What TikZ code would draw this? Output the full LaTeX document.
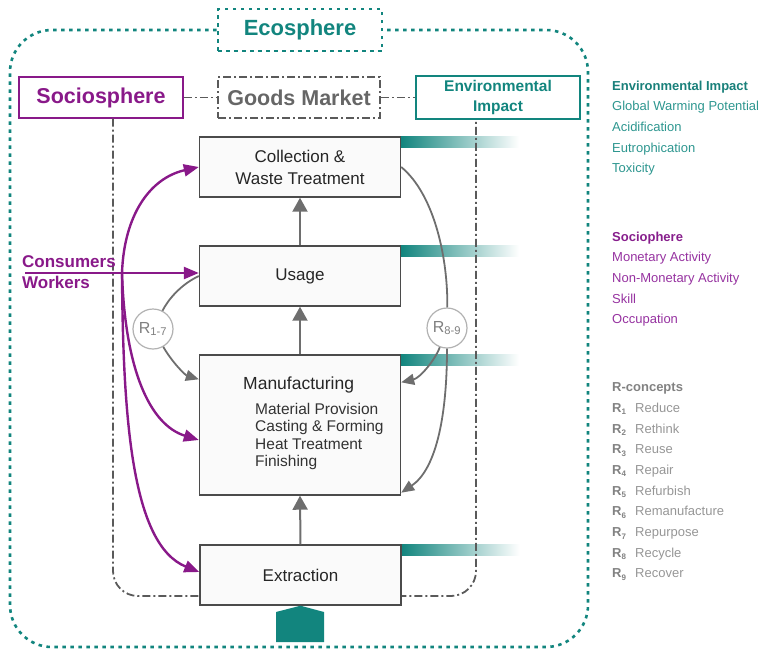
\documentclass[tikz,border=0pt]{standalone}
\usepackage{fontspec}
\setmainfont{Liberation Sans}
\usetikzlibrary{arrows.meta,calc}
\definecolor{teal1}{RGB}{18,133,126}
\definecolor{tealtxt}{RGB}{45,150,143}
\definecolor{tealhead}{RGB}{25,128,122}
\definecolor{purp}{RGB}{137,25,137}
\definecolor{purptxt}{RGB}{150,50,160}
\definecolor{purphead}{RGB}{135,30,140}
\definecolor{boxline}{RGB}{75,75,75}
\definecolor{arrg}{RGB}{110,110,110}
\definecolor{framg}{RGB}{90,90,90}
\definecolor{rgray}{RGB}{150,150,150}
\definecolor{rgrayd}{RGB}{130,130,130}
\newcommand\myfs[2]{\fontsize{#1}{#2}\selectfont}
\newcommand\rc[2]{\makebox[23pt][l]{\textcolor{rgrayd}{\textbf{R}\raisebox{-2.5pt}{\myfs{8}{8}\bfseries #1}}}#2}
\begin{document}
\begin{tikzpicture}[x=1pt,y=-1pt,
  ecoline/.style={draw=teal1, line width=2.6pt, dash pattern=on 3.5pt off 4.5pt},
  ddot/.style={draw=framg, line width=1.8pt, dash pattern=on 8pt off 3pt on 2pt off 3pt},
  procbox/.style={draw=boxline, line width=1.4pt, fill=black!2, minimum width=201pt, minimum height=60pt, inner sep=0pt, font=\myfs{17}{22}, align=center, text=black!85},
  garrow/.style={draw=arrg, line width=2pt, -{Triangle[length=14pt,width=15pt]}},
  gline/.style={draw=arrg, line width=1.8pt},
  carrow/.style={draw=arrg, line width=1.8pt, -{Triangle[length=13pt,width=11pt]}},
  parrow/.style={draw=purp, line width=2.4pt, -{Triangle[length=15pt,width=12pt]}},
  rcirc/.style={circle, draw=black!30, line width=1.2pt, fill=white, minimum size=40pt, inner sep=0pt, text=black!50, font=\myfs{16}{16}},
  legend/.style={anchor=north west, inner sep=0pt, align=left, font=\myfs{13}{20.7}},
  bar/.style={left color=teal1, middle color=teal1!65, right color=white}
]
\useasboundingbox (0,0) rectangle (764,649);

% process boxes (positions)
\node[procbox] (coll) at (300,167) {Collection \&\\Waste Treatment};
\node[procbox] (usage) at (300,276) {Usage};
\node[procbox, minimum height=140pt] (manuf) at (300,425) {};
\node[procbox] (extr) at (300.5,575) {Extraction};

% gradient bars
\foreach \b in {coll,usage,manuf,extr}{
  \shade[bar] (\b.north east) rectangle ++(118,11);
}

% label boxes
\node[ecoline, minimum width=164pt, minimum height=42pt, font=\bfseries\myfs{22}{22}, text=teal1] (eco) at (300,30) {Ecosphere};
\node[draw=purp, line width=1.5pt, minimum width=164pt, minimum height=41pt, font=\bfseries\myfs{21.5}{22}, text=purp] (socio) at (101,97.5) {Sociosphere};
\node[ddot, minimum width=162pt, minimum height=41pt, font=\bfseries\myfs{21.5}{22}, text=black!60] (goods) at (299,97.5) {Goods Market};
\node[draw=teal1, line width=1.5pt, minimum width=164pt, minimum height=43pt, font=\bfseries\myfs{15.5}{20}, text=teal1, align=center] (env) at (498,97.5) {Environmental\\Impact};

\draw[ddot] (socio) -- (goods);
\draw[ddot] (goods) -- (env);

% outer ecosphere frame
\draw[ecoline, rounded corners=42pt] (eco.west) -| (10,647) -| (588,30) -- (eco.east);

% inner frame
\coordinate (fl) at (113,118.5);
\coordinate (fr) at (476,119.5);
\coordinate (fb) at (401,596);
\draw[ddot, rounded corners=25pt] (fl) |- (fb) -| (fr);

% redraw boxes on top of frame
\node[procbox] at (coll) {Collection \&\\Waste Treatment};
\node[procbox] at (usage) {Usage};
\node[procbox, minimum height=140pt] at (manuf) {};
\node[procbox] at (extr) {Extraction};

\node[anchor=west, inner sep=0pt, font=\myfs{17.5}{20}, text=black!85] (mt) at (243,385) {Manufacturing};
\node[anchor=north west, inner sep=0pt, align=left, font=\myfs{15.5}{17.5}, text=black!80] (ml) at (255,403) {Material Provision\\Casting \& Forming\\Heat Treatment\\Finishing};

% input from below
\fill[teal1] (276,642) -- (276,612) -- (extr.south) -- (324,612) -- (324,642) -- cycle;

% vertical flow
\draw[garrow] (extr.north) -- (manuf.south);
\draw[garrow] (manuf.north) -- (usage.south);
\draw[garrow] (usage.north) -- (coll.south);

% R loops
\node[rcirc] (r17) at (153,329) {R\textsubscript{1-7}};
\node[rcirc] (r89) at (447,328) {R\textsubscript{8-9}};
\draw[gline] (usage.west) .. controls (180,285) and (168,300) .. (r17);
\draw[carrow] (r17) .. controls (172,362) and (185,375) .. ($(manuf.north west)+(0,25)$);
\draw[gline] (coll.east) .. controls (435,195) and (448,260) .. (r89);
\draw[carrow] (r89) .. controls (435,360) and (420,378) .. ($(manuf.north east)+(0,28)$);
\draw[carrow] (r89) .. controls (447,420) and (435,470) .. ($(manuf.south east)+(0,-3)$);

% consumers / workers
\node[anchor=west, align=left, inner sep=0pt, font=\bfseries\myfs{17}{21}, text=purp] (cons) at (22,272.5) {Consumers\\Workers};
\coordinate (cw0) at (25,273);
\coordinate (hub) at (122,273);
\draw[parrow] (cw0) -- (cw0 -| usage.west);
\draw[parrow] (hub) .. controls (124,215) and (150,178) .. (coll.west);
\draw[parrow] (hub) .. controls (125,370) and (150,425) .. ($(manuf.west)+(0,15)$);
\draw[parrow] (hub) .. controls (123,420) and (132,545) .. ($(extr.west)+(0,-3)$);

% legends
\node[legend, text=tealtxt] (leg1) at (612,80.5) {\textcolor{tealhead}{\textbf{Environmental Impact}}\\Global Warming Potential\\Acidification\\Eutrophication\\Toxicity};
\node[legend, text=purptxt] (leg2) at (612,231.5) {\textcolor{purphead}{\textbf{Sociophere}}\\Monetary Activity\\Non-Monetary Activity\\Skill\\Occupation};
\node[legend, text=rgray] (leg3) at (612,382.5) {\textcolor{rgrayd}{\textbf{R-concepts}}\\\rc{1}{Reduce}\\\rc{2}{Rethink}\\\rc{3}{Reuse}\\\rc{4}{Repair}\\\rc{5}{Refurbish}\\\rc{6}{Remanufacture}\\\rc{7}{Repurpose}\\\rc{8}{Recycle}\\\rc{9}{Recover}};
\end{tikzpicture}
\end{document}
